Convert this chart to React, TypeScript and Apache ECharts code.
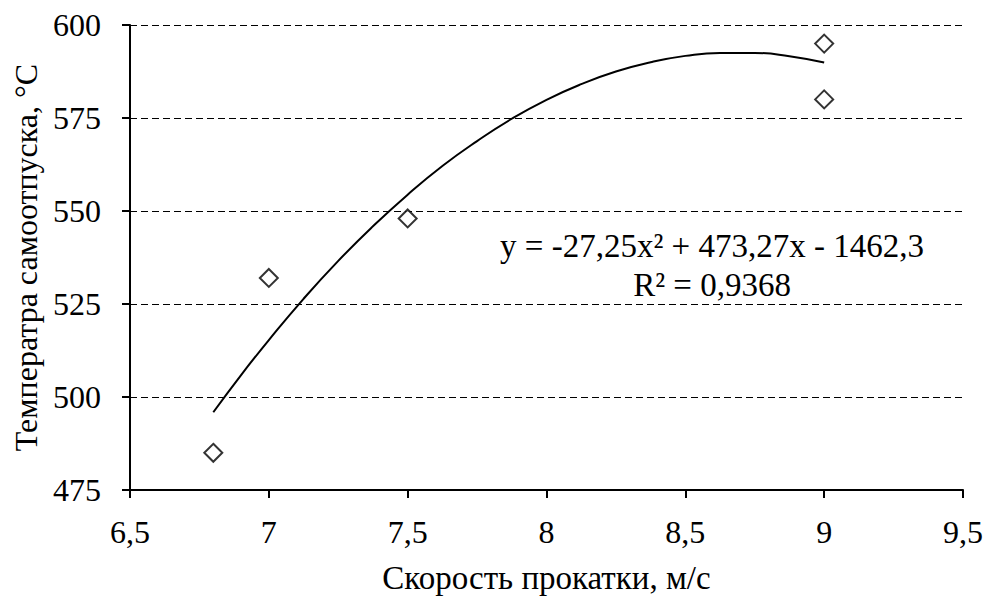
import React, { useEffect, useRef } from "react";
import * as echarts from "echarts";

const xTicks = [6.5, 7, 7.5, 8, 8.5, 9, 9.5];
const yTicks = [475, 500, 525, 550, 575, 600];

const speedPoints = [6.8, 7.0, 7.5, 9.0, 9.0];
const tempPoints = [485, 532, 548, 595, 580];

const trendX = [6.8, 6.9, 7.0, 7.125, 7.25, 7.375, 7.5, 7.625, 7.75, 7.875, 8.0, 8.125, 8.25, 8.375, 8.5, 8.625, 8.75, 8.875, 9.0];
const trendY = [495.9, 505.9, 515.3, 526.4, 536.6, 545.9, 554.4, 562.1, 568.8, 574.8, 579.9, 584.1, 587.5, 590.0, 591.7, 592.5, 592.5, 591.6, 589.9];

const xTitle = "Скорость прокатки, м/с";
const yTitle = "Температра самоотпуска, °С";
const eqLine1 = "y = -27,25x² + 473,27x - 1462,3";
const eqLine2 = "R² = 0,9368";

const FONT = "Liberation Serif";

export default function App() {
  const ref = useRef<HTMLDivElement>(null);
  useEffect(() => {
    if (!ref.current) return;
    const chart = echarts.init(ref.current, null, { renderer: "svg" });
    const fmt = (v: number) => String(v).replace(".", ",");
    chart.setOption({
      animation: false,
      backgroundColor: "#ffffff",
      textStyle: { fontFamily: FONT, color: "#000" },
      grid: { left: 130, right: 23, top: 25, bottom: 98, containLabel: false },
      xAxis: {
        type: "value",
        min: xTicks[0],
        max: xTicks[xTicks.length - 1],
        interval: 0.5,
        name: xTitle,
        nameLocation: "middle",
        nameGap: 71,
        nameTextStyle: { fontFamily: FONT, fontSize: 33, color: "#000" },
        axisLine: { show: true, onZero: false, lineStyle: { color: "#000", width: 2 } },
        axisTick: { show: true, inside: false, length: 8, lineStyle: { color: "#000", width: 2 } },
        axisLabel: { fontFamily: FONT, fontSize: 32, color: "#000", margin: 26, formatter: fmt },
        splitLine: { show: false },
      },
      yAxis: {
        type: "value",
        min: yTicks[0],
        max: yTicks[yTicks.length - 1],
        interval: 25,
        name: yTitle,
        nameLocation: "middle",
        nameGap: 86,
        nameRotate: 90,
        nameTextStyle: { fontFamily: FONT, fontSize: 32, color: "#000" },
        axisLine: { show: true, onZero: false, lineStyle: { color: "#000", width: 2 } },
        axisTick: { show: true, inside: false, length: 8, lineStyle: { color: "#000", width: 2 } },
        axisLabel: { fontFamily: FONT, fontSize: 32, color: "#000", margin: 29, formatter: fmt },
        splitLine: { show: true, lineStyle: { color: "#000", width: 1, type: [7, 4] } },
      },
      series: [
        {
          type: "line",
          data: trendX.map((x, i) => [x, trendY[i]]),
          smooth: true,
          showSymbol: false,
          symbol: "none",
          lineStyle: { color: "#000", width: 2 },
          z: 2,
        },
        {
          type: "scatter",
          data: speedPoints.map((x, i) => [x, tempPoints[i]]),
          symbol: "diamond",
          symbolSize: [18, 18],
          itemStyle: { color: "#fff", borderColor: "#000", borderWidth: 2 },
          z: 3,
        },
      ],
      graphic: [
        {
          type: "text",
          x: 712,
          y: 246,
          style: {
            text: eqLine1,
            fontFamily: FONT,
            fontSize: 33,
            fill: "#000",
            align: "center",
            verticalAlign: "middle",
          },
        },
        {
          type: "text",
          x: 712,
          y: 285,
          style: {
            text: eqLine2,
            fontFamily: FONT,
            fontSize: 33,
            fill: "#000",
            align: "center",
            verticalAlign: "middle",
          },
        },
      ],
    });
    return () => chart.dispose();
  }, []);
  return (
    <div
      ref={ref}
      style={{ position: "fixed", left: 0, top: 0, width: 986, height: 599, background: "#fff" }}
    />
  );
}
